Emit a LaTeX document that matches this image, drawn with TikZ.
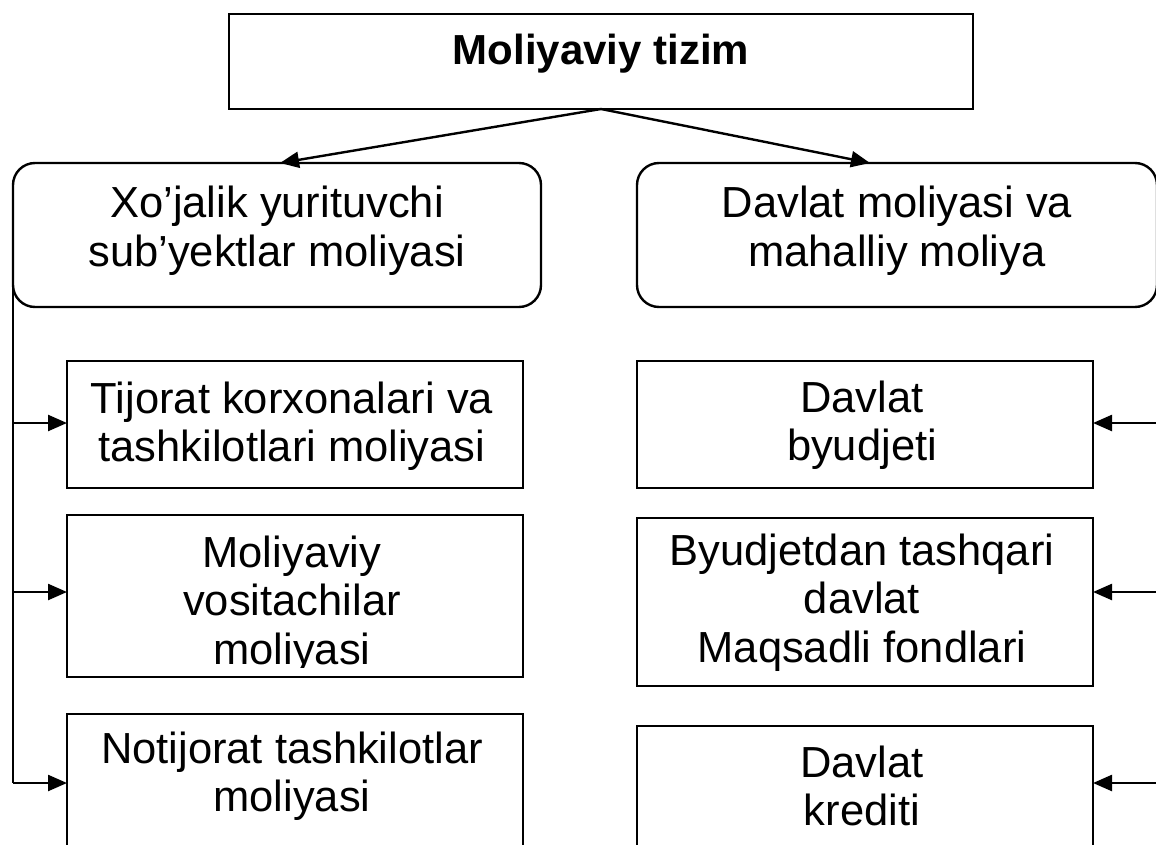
\documentclass[tikz,border=0pt]{standalone}
\usepackage{fontspec}
\setmainfont{Liberation Sans}
\usetikzlibrary{arrows.meta}
\begin{document}
\begin{tikzpicture}[x=1pt,y=-1pt,
  bx/.style={draw=black, line width=2.4pt, inner sep=0pt, outer sep=0pt},
  rbx/.style={bx, rounded corners=22pt},
  txt/.style={inner sep=0pt, anchor=base, font=\fontsize{43.5}{48.5}\selectfont},
  arr/.style={line width=2.4pt, -{Triangle[length=19pt,width=16pt]}},
  ln/.style={line width=2.4pt}]
\useasboundingbox (0,0) rectangle (1156,845);

% boxes
\node[bx, minimum width=744pt, minimum height=95pt] (top) at (601,61.5) {};
\node[rbx, minimum width=528pt, minimum height=144pt] (lrb) at (277,235) {};
\node[rbx, minimum width=520pt, minimum height=144pt] (rrb) at (897,235) {};
\node[bx, minimum width=456pt, minimum height=127pt] (l1) at (295,424.5) {};
\node[bx, minimum width=456pt, minimum height=162pt] (l2) at (295,596) {};
\node[bx, minimum width=456pt, minimum height=146pt] (l3) at (295,787) {};
\node[bx, minimum width=456pt, minimum height=127pt] (r1) at (865,424.5) {};
\node[bx, minimum width=456pt, minimum height=168pt] (r2) at (865,602) {};
\node[bx, minimum width=456pt, minimum height=134pt] (r3) at (865,793) {};

% texts
\node[inner sep=0pt, anchor=base, font=\fontsize{42}{48.5}\selectfont\bfseries] (ttop) at (601,65) {Moliyaviy tizim};
\node[txt] (tlrb) at (277,218) {\parbox[t]{500pt}{\centering Xo’jalik yurituvchi\\sub’yektlar moliyasi}};
\node[txt] (trrb) at (897,218) {\parbox[t]{500pt}{\centering Davlat moliyasi va\\mahalliy moliya}};
\node[txt] (tl1) at (292,413) {\parbox[t]{450pt}{\centering Tijorat korxonalari va\\tashkilotlari moliyasi}};
\begin{scope}
\clip (67,515) rectangle (523,667);
\node[txt] (tl2) at (292,567) {\parbox[t]{450pt}{\centering Moliyaviy\\vositachilar\\moliyasi}};
\end{scope}
\node[txt] (tl3) at (292,763) {\parbox[t]{450pt}{\centering Notijorat tashkilotlar\\moliyasi}};
\node[txt] (tr1) at (862,412) {\parbox[t]{450pt}{\centering Davlat\\byudjeti}};
\node[txt] (tr2) at (862,565) {\parbox[t]{450pt}{\centering Byudjetdan tashqari\\davlat\\Maqsadli fondlari}};
\node[txt] (tr3) at (862,777) {\parbox[t]{450pt}{\centering Davlat\\krediti}};

% top arrows
\draw[arr] (top.south) -- ([xshift=3pt]lrb.north);
\draw[arr] (top.south) -- ([xshift=-27pt]rrb.north);

% left bus
\coordinate (lb1) at (13,423);
\coordinate (lb2) at (13,592);
\coordinate (lb3) at (13,783);
\draw[ln] (lrb.west) -- (lb3);
\draw[arr] (lb1) -- (lb1 -| l1.west);
\draw[arr] (lb2) -- (lb2 -| l2.west);
\draw[arr] (lb3) -- (lb3 -| l3.west);

% right bus (beyond the right edge)
\coordinate (rt) at (1162,235);
\coordinate (rb1) at (1162,423);
\coordinate (rb2) at (1162,592);
\coordinate (rb3) at (1162,783);
\draw[ln] (rt) -- (rb3);
\draw[arr] (rb1) -- (rb1 -| r1.east);
\draw[arr] (rb2) -- (rb2 -| r2.east);
\draw[arr] (rb3) -- (rb3 -| r3.east);
\end{tikzpicture}
\end{document}
